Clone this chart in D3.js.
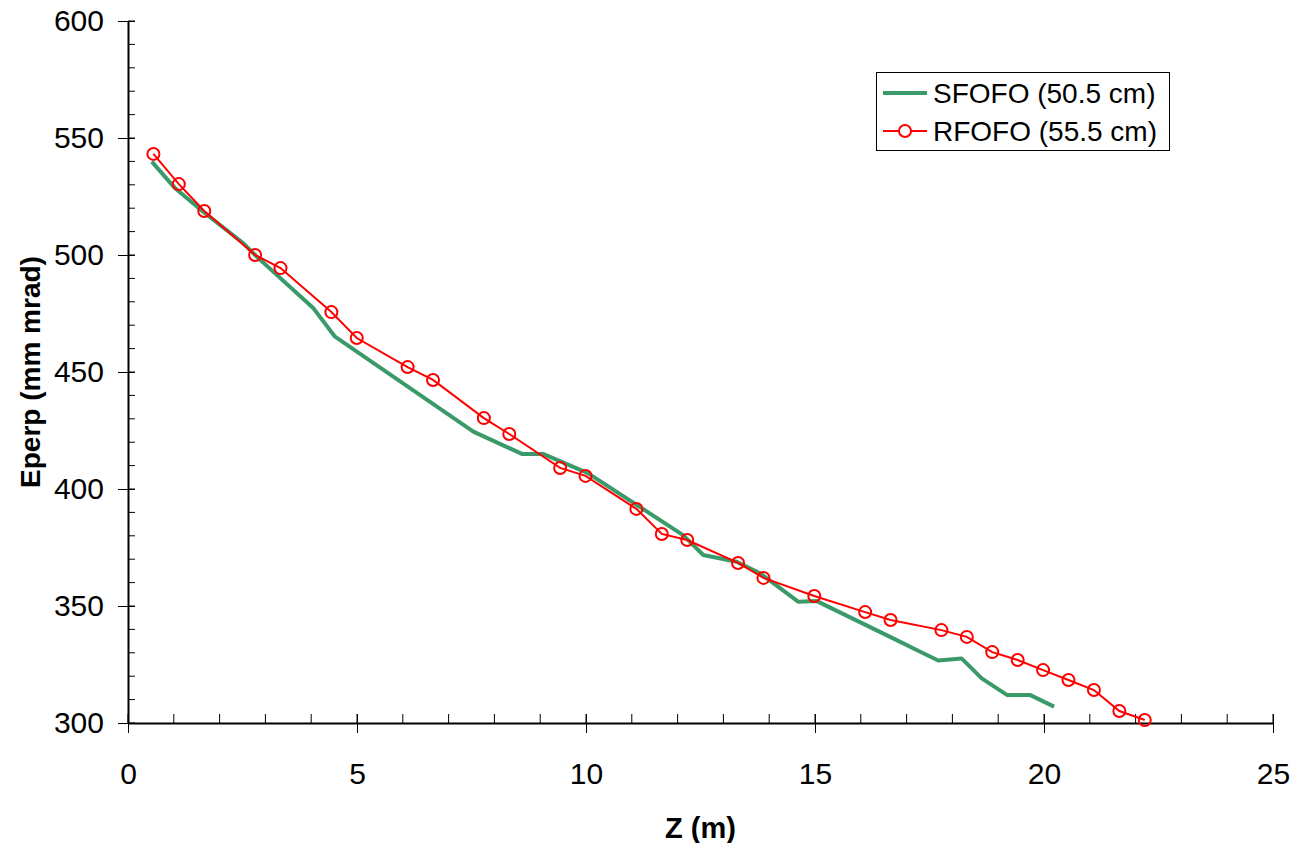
<!DOCTYPE html>
<html><head><meta charset="utf-8">
<script src="https://cdn.jsdelivr.net/npm/d3@7"></script>
<style>
html,body{margin:0;padding:0;background:#fff;}
svg{display:block;font-family:"Liberation Sans",Arial,sans-serif;}
</style></head>
<body>
<svg id="chart" width="1298" height="843"></svg>
<script>
// SFOFO (50.5 cm) — Z (m), Eperp (mm mrad)
const sfofoZ = [0.52,1.03,1.64,2.52,2.81,4.05,4.52,7.54,8.60,9.06,10.04,12.12,12.56,13.29,13.80,14.64,15.04,16.64,17.22,17.69,18.20,18.64,19.19,19.69,20.22];
const sfofoE = [539.9,528.5,518.5,505.0,499.3,477.2,465.1,424.5,415.0,415.0,406.8,380.3,371.8,368.9,364.0,351.8,352.1,336.8,331.2,326.7,327.6,319.1,312.0,312.0,307.0];
// RFOFO (55.5 cm)
const rfofoZ = [0.555,1.11,1.665,2.775,3.33,4.44,4.995,6.105,6.66,7.77,8.325,9.435,9.99,11.1,11.655,12.21,13.32,13.875,14.985,16.095,16.65,17.76,18.315,18.87,19.425,19.98,20.535,21.09,21.645,22.2];
const rfofoE = [543.2,530.3,518.8,500.0,494.4,475.6,464.5,452.1,446.6,430.3,423.5,409.0,405.6,391.5,380.8,378.2,368.4,362.0,354.3,347.4,344.0,339.7,336.8,330.3,326.9,322.6,318.4,314.1,305.1,301.3];
const xTicks = [0,5,10,15,20,25];
const yTicks = [300,350,400,450,500,550,600];
const seriesNames = ["SFOFO (50.5 cm)","RFOFO (55.5 cm)"];
const xTitle = "Z (m)", yTitle = "Eperp (mm mrad)";

const svg = d3.select("#chart");
const L=128, R=1273, T=21, B=723;
const x = d3.scaleLinear().domain([0,25]).range([L,R]);
const y = d3.scaleLinear().domain([300,600]).range([B,T]);

// minor ticks
const gMinor = svg.append("g").attr("stroke","#000").attr("stroke-width",1);
gMinor.selectAll("line.xm").data(d3.range(0,26,1)).join("line")
  .attr("x1",d=>x(d)).attr("x2",d=>x(d)).attr("y1",B).attr("y2",B-9);
gMinor.selectAll("line.ym").data(d3.range(300,601,10)).join("line")
  .attr("y1",d=>y(d)).attr("y2",d=>y(d)).attr("x1",L).attr("x2",L+7);

// axes
const xAxis = svg.append("g").attr("transform",`translate(0,${B})`)
  .call(d3.axisBottom(x).tickValues(xTicks).tickSize(10).tickSizeOuter(0).tickPadding(30));
const yAxis = svg.append("g").attr("transform",`translate(${L},0)`)
  .call(d3.axisLeft(y).tickValues(yTicks).tickSize(10).tickSizeOuter(0).tickPadding(14));
[xAxis,yAxis].forEach(a=>{
  a.attr("font-size",null).attr("font-family",null);
  a.select(".domain").attr("stroke","#000").attr("stroke-width",2);
  a.selectAll(".tick line").attr("stroke","#000").attr("stroke-width",1);
  a.selectAll(".tick text").attr("fill","#000").style("font-size","30px").style("font-family","'Liberation Sans',Arial,sans-serif");
});
// major ticks cross inward too
xAxis.selectAll(".tick").append("line").attr("y1",0).attr("y2",-9).attr("stroke","#000");
yAxis.selectAll(".tick").append("line").attr("x1",0).attr("x2",7).attr("stroke","#000");

// titles
svg.append("text").attr("x",(L+R)/2).attr("y",838).attr("text-anchor","middle")
  .style("font-size","29px").style("font-weight","bold").text(xTitle);
svg.append("text").attr("transform",`translate(40,${(T+B)/2}) rotate(-90)`).attr("text-anchor","middle")
  .style("font-size","28px").style("font-weight","bold").text(yTitle);

const sData = sfofoZ.map((z,i)=>[z,sfofoE[i]]);
const rData = rfofoZ.map((z,i)=>[z,rfofoE[i]]);
const line = d3.line().x(d=>x(d[0])).y(d=>y(d[1]));

svg.append("path").datum(sData).attr("d",line).attr("fill","none")
  .attr("stroke","#3a9a6a").attr("stroke-width",4).attr("stroke-linejoin","round");
svg.append("path").datum(rData).attr("d",line).attr("fill","none")
  .attr("stroke","#ff0000").attr("stroke-width",2);
svg.append("g").selectAll("circle").data(rData).join("circle")
  .attr("cx",d=>x(d[0])).attr("cy",d=>y(d[1])).attr("r",6)
  .attr("fill","none").attr("stroke","#ff0000").attr("stroke-width",2);

// legend
const lg = svg.append("g");
lg.append("rect").attr("x",876.5).attr("y",72.5).attr("width",293).attr("height",78)
  .attr("fill","#fff").attr("stroke","#000").attr("stroke-width",1);
lg.append("line").attr("x1",883).attr("x2",927).attr("y1",93).attr("y2",93)
  .attr("stroke","#3a9a6a").attr("stroke-width",4);
lg.append("line").attr("x1",883).attr("x2",927).attr("y1",131).attr("y2",131)
  .attr("stroke","#ff0000").attr("stroke-width",2);
lg.append("circle").attr("cx",905).attr("cy",131).attr("r",6).attr("fill","#fff")
  .attr("stroke","#ff0000").attr("stroke-width",2);
lg.selectAll("text").data(seriesNames).join("text")
  .attr("x",933).attr("y",(d,i)=>93+i*38+10).style("font-size","28px").text(d=>d);
</script>
</body></html>
